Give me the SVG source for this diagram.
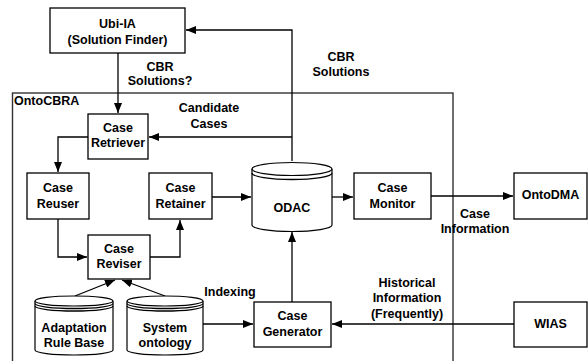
<svg xmlns="http://www.w3.org/2000/svg" width="588" height="361" viewBox="0 0 588 361">
<defs>
<marker id="ah" viewBox="0 0 10 8" refX="10" refY="4" markerWidth="10" markerHeight="8" markerUnits="userSpaceOnUse" orient="auto">
<path d="M0,0 L10,4 L0,8 z" fill="#000"/>
</marker>
<style>
text{font-family:"Liberation Sans",Arial,sans-serif;font-weight:bold;font-size:12.5px;fill:#000;text-anchor:middle}
.box{fill:#fff;stroke:#000;stroke-width:1.3}
.cyl{fill:#fff;stroke:#000;stroke-width:1.2}
.ln{fill:none;stroke:#000;stroke-width:1.3}
.c{fill:none;stroke:#000;stroke-width:1.3;marker-end:url(#ah)}
</style>
</defs>
<rect width="588" height="361" fill="#fff"/>
<g id="OntoCBRA">
<rect x="12.5" y="93" width="440.5" height="280" fill="none" stroke="#333" stroke-width="1.4"/>
<text x="14" y="105" style="text-anchor:start">OntoCBRA</text>
</g>
<g id="connectors">
<path class="c" d="M118,53 V113"/>
<path class="c" d="M292,161 V30 H186"/>
<path class="c" d="M292,137 H149"/>
<path class="c" d="M88,137 H58 V172"/>
<path class="c" d="M58,219 V257 H87"/>
<path class="c" d="M150,257 H180 V220"/>
<path class="c" d="M212,197 H251"/>
<path class="c" d="M332,197 H353"/>
<path class="c" d="M431,196 H513"/>
<path class="c" d="M514,324 H332"/>
<path class="c" d="M292,302 V232"/>
<path class="c" d="M203,324 H253"/>
<path class="c" d="M75,296 L115,280"/>
<path class="c" d="M165,296 L122,280"/>
<text x="160" y="71">CBR</text>
<text x="160" y="85">Solutions?</text>
<text x="209" y="112">Candidate</text>
<text x="209" y="128">Cases</text>
<text x="341" y="61">CBR</text>
<text x="341" y="76">Solutions</text>
<text x="475" y="218">Case</text>
<text x="475" y="233">Information</text>
<text x="230" y="296">Indexing</text>
<text x="407" y="287">Historical</text>
<text x="407" y="302">Information</text>
<text x="407" y="318">(Frequently)</text>
</g>
<g id="ubi-ia">
<rect class="box" x="50" y="8" width="135" height="45"/>
<text x="117.5" y="28">Ubi-IA</text>
<text x="117.5" y="44">(Solution Finder)</text>
</g>
<g id="case-retriever">
<rect class="box" x="88" y="114" width="60" height="45"/>
<text x="118" y="132">Case</text>
<text x="118" y="147">Retriever</text>
</g>
<g id="case-reuser">
<rect class="box" x="27" y="173" width="62" height="46"/>
<text x="58" y="192">Case</text>
<text x="58" y="208">Reuser</text>
</g>
<g id="case-retainer">
<rect class="box" x="149" y="173" width="63" height="46"/>
<text x="180.5" y="192">Case</text>
<text x="180.5" y="208">Retainer</text>
</g>
<g id="odac">
<path class="cyl" d="M252,169 V225 A40,6.5 0 0 0 332,225 V169"/>
<ellipse class="cyl" cx="292" cy="169" rx="40" ry="6.5"/>
<path class="ln" d="M252,173 A40,6.5 0 0 0 332,173" stroke-width="1"/>
<text x="292" y="212">ODAC</text>
</g>
<g id="case-monitor">
<rect class="box" x="354" y="173" width="77" height="46"/>
<text x="392.5" y="192">Case</text>
<text x="392.5" y="208">Monitor</text>
</g>
<g id="ontodma">
<rect class="box" x="514" y="173" width="73" height="46"/>
<text x="550.5" y="199">OntoDMA</text>
</g>
<g id="case-reviser">
<rect class="box" x="88" y="235" width="62" height="44"/>
<text x="119" y="253">Case</text>
<text x="119" y="268">Reviser</text>
</g>
<g id="adaptation-rule-base">
<path class="cyl" d="M35,301 V350 A39,5 0 0 0 113,350 V301"/>
<ellipse class="cyl" cx="74" cy="301" rx="39" ry="5"/>
<path class="ln" d="M35,303.5 A39,5 0 0 0 113,303.5 M35,306 A39,5 0 0 0 113,306" stroke-width="1"/>
<text x="74" y="332">Adaptation</text>
<text x="74" y="347">Rule Base</text>
</g>
<g id="system-ontology">
<path class="cyl" d="M127,301 V350 A38,5 0 0 0 203,350 V301"/>
<ellipse class="cyl" cx="165" cy="301" rx="38" ry="5"/>
<path class="ln" d="M127,303.5 A38,5 0 0 0 203,303.5 M127,306 A38,5 0 0 0 203,306" stroke-width="1"/>
<text x="165" y="332">System</text>
<text x="165" y="347">ontology</text>
</g>
<g id="case-generator">
<rect class="box" x="254" y="302" width="77" height="45"/>
<text x="292.5" y="320">Case</text>
<text x="292.5" y="336">Generator</text>
</g>
<g id="wias">
<rect class="box" x="514" y="302" width="73" height="45"/>
<text x="550.5" y="328">WIAS</text>
</g>
</svg>
